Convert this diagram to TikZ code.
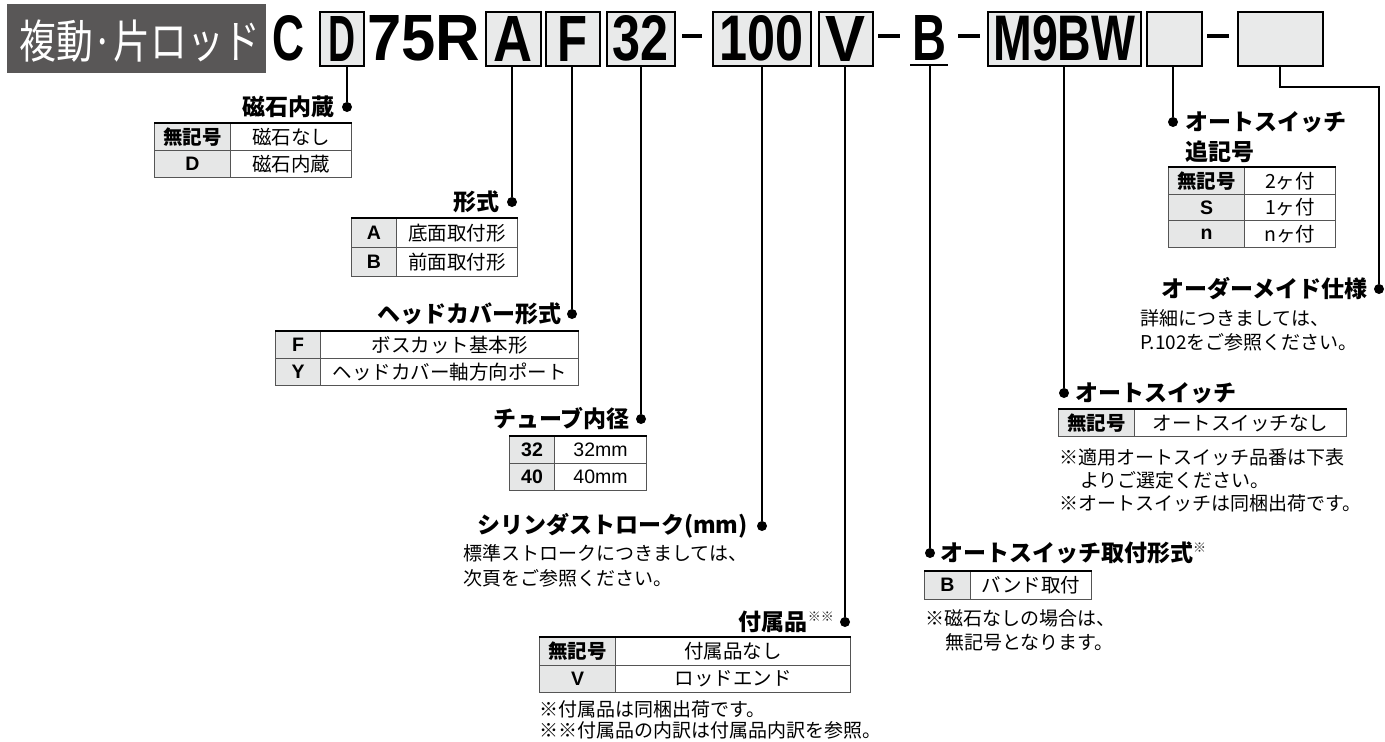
\documentclass[tikz,border=0pt]{standalone}
\usepackage{fontspec}
\usepackage{graphicx}
\setmainfont{Noto Sans CJK JP}
\newfontfamily\lat{Liberation Sans}
\definecolor{hdr}{HTML}{595757}
\definecolor{boxg}{HTML}{E9EAEA}
\definecolor{cellg}{HTML}{E6E7E7}
\definecolor{rulec}{HTML}{555555}
\tikzset{
 codebox/.style={draw=black, line width=1.6pt, fill=boxg, anchor=north west, inner sep=0, minimum height=54pt},
 codetxt/.style={inner sep=0},
 dotn/.style={circle, fill=black, inner sep=0, minimum size=10pt},
 conn/.style={line width=2pt},
 title/.style={inner sep=0, font=\bfseries\fontsize{23}{26}\selectfont},
 note/.style={inner sep=0, anchor=west, font=\fontsize{19}{22}\selectfont},
 kcell/.style={draw=rulec, line width=1pt, fill=cellg, inner sep=0, font=\bfseries\fontsize{19.5}{20}\selectfont},
 vcell/.style={draw=rulec, line width=1pt, fill=white, inner sep=0, font=\fontsize{19.5}{20}\selectfont},
 topline/.style={line width=2.6pt},
 dashn/.style={inner sep=0},
}
\newcommand\mytrow[8]{%
 \node[kcell, anchor=north west, minimum width={(#3-#2)*1pt}, minimum height={#6*1pt}] (#1k) at (#2,#5) {#7};
 \node[vcell, anchor=north west, minimum width={(#4-#3)*1pt}, minimum height={#6*1pt}] (#1v) at (#3,#5) {#8};}
\newcommand\ctext[2]{\resizebox{#1pt}{45pt}{\lat\bfseries #2}}
\newcommand\supmark[1]{\raisebox{9pt}{\mdseries\fontsize{13}{13}\selectfont\color{black!85}#1}}
\begin{document}
\begin{tikzpicture}[x=1pt,y=-1pt]
\useasboundingbox (0,0) rectangle (1385,742);
% header
\node[fill=hdr, minimum width=259pt, minimum height=69pt, anchor=north west, inner sep=0] (hd) at (7,4) {};
\node[inner sep=0, text=white] (hdt) at (140,41) {\scalebox{0.8}[1]{\fontsize{46}{46}\selectfont 複動·片ロッド}};
% code
\node[codetxt] (tC) at (289,38) {\ctext{32}{C}};
\node[codebox, minimum width=44pt] (bD) at (319,11) {\ctext{27}{D}};
\node[codetxt] (t75) at (423.5,38) {\ctext{113}{75R}};
\node[codebox, minimum width=55pt] (bA) at (485,11) {\ctext{39}{A}};
\node[codebox, minimum width=54pt] (bF) at (545,11) {\ctext{30}{F}};
\node[codebox, minimum width=68pt] (b32) at (606,11) {\ctext{56}{32}};
\node[dashn] (m1) at (692,36) {\rule{20pt}{3.5pt}};
\node[codebox, minimum width=98pt] (b100) at (712,11) {\ctext{84}{100}};
\node[codebox, minimum width=54pt] (bV) at (818,11) {\ctext{40}{V}};
\node[dashn] (m2) at (889,36) {\rule{22pt}{3.5pt}};
\node[codetxt] (tB) at (929.5,38) {\ctext{34}{B}};
\coordinate (uBl) at (910,65);
\coordinate (uBr) at (948,65);
\draw[line width=2pt] (uBl) -- (uBr);
\node[dashn] (m3) at (969,36) {\rule{22pt}{3.5pt}};
\node[codebox, minimum width=153pt] (bM) at (987,11) {\ctext{142}{M9BW}};
\node[codebox, minimum width=55pt] (bE1) at (1146,11) {};
\node[dashn] (m4) at (1218,36) {\rule{22pt}{3.5pt}};
\node[codebox, minimum width=85pt] (bE2) at (1237,11) {};
% dots
\node[dotn] (dD) at (347,107) {};
\node[dotn] (dA) at (512,202) {};
\node[dotn] (dF) at (572,314) {};
\node[dotn] (d32) at (641,419) {};
\node[dotn] (d100) at (762,526) {};
\node[dotn] (dV) at (845,622) {};
\node[dotn] (dB) at (930,553) {};
\node[dotn] (dM) at (1064,393) {};
\node[dotn] (dE1) at (1173,122) {};
\node[dotn] (dE2) at (1379,289) {};
% connectors
\draw[conn] (bD.south -| dD) -- (dD);
\draw[conn] (bA.south -| dA) -- (dA);
\draw[conn] (bF.south -| dF) -- (dF);
\draw[conn] (b32.south -| d32) -- (d32);
\draw[conn] (b100.south -| d100) -- (d100);
\draw[conn] (bV.south -| dV) -- (dV);
\draw[conn] (uBl -| dB) -- (dB);
\draw[conn] (bM.south -| dM) -- (dM);
\draw[conn] (bE1.south -| dE1) -- (dE1);
\coordinate (bend) at (1280,87);
\draw[conn] (bE2.south -| bend) -- (bend) -| (dE2);
% titles
\node[title, anchor=east] (lD) at (335,107) {磁石内蔵};
\node[title, anchor=east] (lA) at (500,202) {形式};
\node[title, anchor=east] (lF) at (562,314) {ヘッドカバー形式};
\node[title, anchor=east] (l32) at (630,419) {チューブ内径};
\node[title, anchor=east] (l100) at (748,526) {シリンダストローク(mm)};
\node[title, anchor=east] (lV) at (834,622) {付属品\supmark{※※}};
\node[title, anchor=west] (lB) at (940,553) {オートスイッチ取付形式\supmark{※}};
\node[title, anchor=west] (lM) at (1075,393) {オートスイッチ};
\node[title, anchor=west] (lE1) at (1185,122) {オートスイッチ};
\node[title, anchor=west] (lE1b) at (1185,152) {追記号};
\node[title, anchor=east] (lE2) at (1368,289) {オーダーメイド仕様};
% tables
\mytrow{ta1}{154}{230}{351}{123}{27}{無記号}{磁石なし}
\mytrow{ta2}{154}{230}{351}{150}{27}{\lat D}{磁石内蔵}
\draw[topline] (ta1k.north west) -- (ta1v.north east);
\mytrow{tb1}{351}{396}{517}{218}{29}{\lat A}{底面取付形}
\mytrow{tb2}{351}{396}{517}{247}{29}{\lat B}{前面取付形}
\draw[topline] (tb1k.north west) -- (tb1v.north east);
\mytrow{tc1}{275}{320}{578}{331}{27}{\lat F}{ボスカット基本形}
\mytrow{tc2}{275}{320}{578}{358}{27}{\lat Y}{ヘッドカバー軸方向ポート}
\draw[topline] (tc1k.north west) -- (tc1v.north east);
\mytrow{td1}{509}{554}{646}{436}{27}{\lat 32}{\lat 32mm}
\mytrow{td2}{509}{554}{646}{463}{27}{\lat 40}{\lat 40mm}
\draw[topline] (td1k.north west) -- (td1v.north east);
\mytrow{te1}{539}{615}{850}{637}{27.5}{無記号}{付属品なし}
\mytrow{te2}{539}{615}{850}{664.5}{27.5}{\lat V}{ロッドエンド}
\draw[topline] (te1k.north west) -- (te1v.north east);
\mytrow{tf1}{1168}{1244}{1335}{167}{26.7}{無記号}{2ヶ付}
\mytrow{tf2}{1168}{1244}{1335}{193.7}{26.7}{\lat S}{1ヶ付}
\mytrow{tf3}{1168}{1244}{1335}{220.4}{26.7}{\lat n}{nヶ付}
\draw[topline] (tf1k.north west) -- (tf1v.north east);
\mytrow{tg1}{1058}{1134}{1346}{409}{27}{無記号}{オートスイッチなし}
\draw[topline] (tg1k.north west) -- (tg1v.north east);
\mytrow{th1}{924}{970}{1091}{571}{27.5}{\lat B}{バンド取付}
\draw[topline] (th1k.north west) -- (th1v.north east);
% notes
\node[note] (n100a) at (463,553) {標準ストロークにつきましては、};
\node[note] (n100b) at (463,578) {次頁をご参照ください。};
\node[note] (nVa) at (539,709) {※付属品は同梱出荷です。};
\node[note] (nVb) at (539,730) {※※付属品の内訳は付属品内訳を参照。};
\node[note] (nMa) at (1059,457) {※適用オートスイッチ品番は下表};
\node[note] (nMb) at (1080,480) {よりご選定ください。};
\node[note] (nMc) at (1059,503) {※オートスイッチは同梱出荷です。};
\node[note] (nBa) at (925,618) {※磁石なしの場合は、};
\node[note] (nBb) at (945,642) {無記号となります。};
\node[note] (nE2a) at (1140,318) {詳細につきましては、};
\node[note] (nE2b) at (1140,342) {P.102をご参照ください。};
\end{tikzpicture}
\end{document}
